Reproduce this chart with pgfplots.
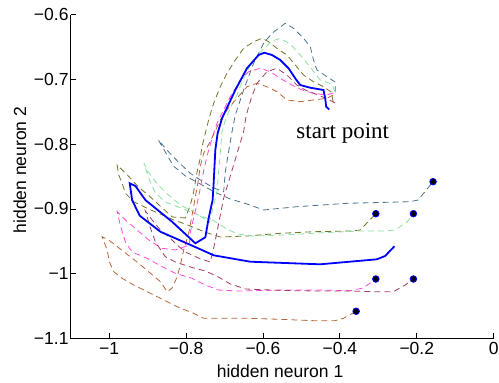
\documentclass[border=0pt]{standalone}
\usepackage{fontspec}
\setmainfont{Liberation Sans}
\newfontfamily\serifx{Liberation Serif}
\usepackage{pgfplots}
\pgfplotsset{compat=1.18}
\definecolor{slate}{RGB}{75,115,140}
\definecolor{olivec}{RGB}{115,115,40}
\definecolor{lgreen}{RGB}{140,225,160}
\definecolor{magc}{RGB}{255,70,220}
\definecolor{maroonc}{RGB}{165,60,100}
\definecolor{brownc}{RGB}{185,100,55}
\begin{document}
\begin{tikzpicture}
\begin{axis}[
  scale only axis, width=423bp, height=324bp,
  xmin=-1.1, xmax=0, ymin=-1.1, ymax=-0.6,
  enlargelimits=false,
  axis lines*=left,
  axis line style={black, line width=0.8bp},
  tick align=inside,
  major tick length=5bp,
  tick style={black, line width=0.8bp},
  xtick={-1,-0.8,-0.6,-0.4,-0.2,0},
  xticklabels={−1,−0.8,−0.6,−0.4,−0.2,0},
  ytick={-1.1,-1,-0.9,-0.8,-0.7,-0.6},
  yticklabels={−1.1,−1,−0.9,−0.8,−0.7,−0.6},
  tick label style={font=\fontsize{17.5bp}{20bp}\selectfont},
  xticklabel style={inner sep=1bp, yshift=-3bp},
  yticklabel style={inner sep=1bp, xshift=-1bp},
  xlabel={hidden neuron 1},
  ylabel={hidden neuron 2},
  label style={font=\fontsize{17.5bp}{20bp}\selectfont},
  xlabel style={at={(axis description cs:0.495,-0.1)}, anchor=center},
  ylabel style={at={(axis description cs:-0.1199,0.52)}, anchor=center, rotate=0},
  clip=false,
]
% slate
\addplot[slate, line width=0.8bp, dash pattern=on 6bp off 4bp] coordinates {
(-0.4122,-0.7196) (-0.4122,-0.7042) (-0.4338,-0.6960) (-0.4597,-0.6856) (-0.4686,-0.6702)
(-0.4771,-0.6497) (-0.4945,-0.6367) (-0.5205,-0.6213) (-0.5421,-0.6136) (-0.5766,-0.6290)
(-0.5984,-0.6444) (-0.6244,-0.6753) (-0.6504,-0.7165) (-0.6634,-0.7397) (-0.6719,-0.7551)
(-0.6805,-0.7809) (-0.6894,-0.8117) (-0.6979,-0.8426) (-0.7023,-0.8735) (-0.7283,-0.8677)
(-0.7629,-0.8554) (-0.7888,-0.8451) (-0.8200,-0.8276) (-0.8452,-0.8122) (-0.8719,-0.7937)
(-0.8538,-0.8122) (-0.8330,-0.8338) (-0.8018,-0.8492) (-0.7629,-0.8616) (-0.7265,-0.8739)
(-0.6849,-0.8847) (-0.6416,-0.8924) (-0.5984,-0.9017) (-0.5117,-0.8966) (-0.3818,-0.8914)
(-0.2174,-0.8889) (-0.1966,-0.8863) (-0.1577,-0.8580)
};
% olive
\addplot[olivec, line width=0.8bp, dash pattern=on 6bp off 4bp] coordinates {
(-0.4174,-0.7350) (-0.4226,-0.7196) (-0.4426,-0.7114) (-0.4686,-0.7037) (-0.4945,-0.6934)
(-0.5161,-0.6779) (-0.5377,-0.6625) (-0.5636,-0.6522) (-0.5855,-0.6420) (-0.6026,-0.6367)
(-0.6244,-0.6420) (-0.6504,-0.6522) (-0.6719,-0.6702) (-0.6935,-0.6907) (-0.7109,-0.7114)
(-0.7283,-0.7370) (-0.7413,-0.7628) (-0.7499,-0.7833) (-0.7584,-0.8040) (-0.7629,-0.8215)
(-0.7714,-0.8431) (-0.7803,-0.8739) (-0.7888,-0.8940) (-0.8018,-0.9140) (-0.8356,-0.9125)
(-0.8618,-0.8986) (-0.8927,-0.8816) (-0.9239,-0.8662) (-0.9525,-0.8477) (-0.9792,-0.8323)
(-0.9751,-0.8477) (-0.9662,-0.8605) (-0.9577,-0.8759) (-0.9361,-0.8889) (-0.9013,-0.8991)
(-0.8712,-0.9068) (-0.8322,-0.9171) (-0.8018,-0.9233) (-0.7758,-0.9299) (-0.7413,-0.9377)
(-0.7109,-0.9434) (-0.6416,-0.9418) (-0.5551,-0.9377) (-0.4686,-0.9352) (-0.3732,-0.9341)
(-0.3473,-0.9326) (-0.3065,-0.9074)
};
% light green
\addplot[lgreen, line width=0.8bp, dash pattern=on 6bp off 4bp] coordinates {
(-0.4122,-0.7196) (-0.4208,-0.7073) (-0.4512,-0.7011) (-0.4771,-0.6810) (-0.5031,-0.6625)
(-0.5291,-0.6455) (-0.5551,-0.6370) (-0.5766,-0.6409) (-0.6070,-0.6579) (-0.6330,-0.6779)
(-0.6545,-0.7037) (-0.6675,-0.7242) (-0.6849,-0.7443) (-0.6979,-0.7628) (-0.7065,-0.7813)
(-0.7109,-0.8122) (-0.7153,-0.8431) (-0.7195,-0.8739) (-0.7325,-0.9048) (-0.7395,-0.9202)
(-0.7758,-0.9063) (-0.8148,-0.8940) (-0.8486,-0.8770) (-0.8745,-0.8616) (-0.9005,-0.8415)
(-0.9096,-0.8292) (-0.8953,-0.8554) (-0.8797,-0.8755) (-0.8538,-0.8893) (-0.8096,-0.8994)
(-0.7681,-0.9094) (-0.7265,-0.9187) (-0.6979,-0.9295) (-0.6668,-0.9387) (-0.6252,-0.9418)
(-0.5473,-0.9403) (-0.4590,-0.9372) (-0.3473,-0.9341) (-0.2875,-0.9341) (-0.2564,-0.9326)
(-0.2252,-0.9202) (-0.2088,-0.9074)
};
% magenta
\addplot[magc, line width=0.8bp, dash pattern=on 6bp off 4bp] coordinates {
(-0.4174,-0.7211) (-0.4338,-0.7242) (-0.4686,-0.7216) (-0.4987,-0.7165) (-0.5247,-0.7088)
(-0.5551,-0.6985) (-0.5810,-0.6883) (-0.6070,-0.6830) (-0.6374,-0.6883) (-0.6590,-0.7011)
(-0.6849,-0.7269) (-0.7023,-0.7474) (-0.7195,-0.7679) (-0.7325,-0.7910) (-0.7447,-0.8168)
(-0.7543,-0.8415) (-0.7629,-0.8677) (-0.7714,-0.8924) (-0.7803,-0.9140) (-0.7888,-0.9356)
(-0.7914,-0.9557) (-0.8278,-0.9634) (-0.8623,-0.9608) (-0.8971,-0.9480) (-0.9273,-0.9326)
(-0.9577,-0.9171) (-0.9792,-0.9043) (-0.9706,-0.9264) (-0.9577,-0.9511) (-0.9403,-0.9665)
(-0.9013,-0.9762) (-0.8623,-0.9892) (-0.8278,-0.9994) (-0.7844,-1.0071) (-0.7499,-1.0175)
(-0.7153,-1.0252) (-0.6634,-1.0267) (-0.5473,-1.0252) (-0.4590,-1.0252) (-0.3732,-1.0262)
(-0.3395,-1.0221) (-0.3065,-1.0082)
};
% maroon
\addplot[maroonc, line width=0.8bp, dash pattern=on 6bp off 4bp] coordinates {
(-0.4122,-0.7366) (-0.4330,-0.7304) (-0.4564,-0.7242) (-0.4901,-0.7165) (-0.5117,-0.7088)
(-0.5377,-0.6934) (-0.5636,-0.6830) (-0.5896,-0.6883) (-0.6156,-0.7062) (-0.6304,-0.7289)
(-0.6434,-0.7551) (-0.6504,-0.7809) (-0.6634,-0.8065) (-0.6764,-0.8323) (-0.6894,-0.8580)
(-0.7023,-0.8836) (-0.7109,-0.9094) (-0.7195,-0.9352) (-0.7265,-0.9557) (-0.7369,-0.9819)
(-0.7681,-0.9758) (-0.8018,-0.9665) (-0.8234,-0.9557) (-0.8452,-0.9429) (-0.8668,-0.9326)
(-0.8883,-0.9171) (-0.9057,-0.9032) (-0.8927,-0.9295) (-0.8797,-0.9511) (-0.8538,-0.9738)
(-0.8278,-0.9819) (-0.7888,-0.9897) (-0.7499,-0.9958) (-0.7161,-1.0051) (-0.6849,-1.0159)
(-0.6460,-1.0236) (-0.5473,-1.0259) (-0.4590,-1.0267) (-0.3732,-1.0267) (-0.3039,-1.0278)
(-0.2608,-1.0278) (-0.2304,-1.0175) (-0.2088,-1.0082)
};
% brown
\addplot[brownc, line width=0.8bp, dash pattern=on 6bp off 4bp] coordinates {
(-0.4174,-0.7242) (-0.4338,-0.7293) (-0.4686,-0.7319) (-0.5031,-0.7346) (-0.5377,-0.7319)
(-0.5636,-0.7191) (-0.5896,-0.7114) (-0.6156,-0.7062) (-0.6416,-0.7114) (-0.6675,-0.7293)
(-0.6901,-0.7443) (-0.7109,-0.7628) (-0.7291,-0.7860) (-0.7421,-0.8014) (-0.7543,-0.8142)
(-0.7629,-0.8338) (-0.7681,-0.8554) (-0.7803,-0.8966) (-0.7932,-0.9377) (-0.8062,-0.9634)
(-0.8148,-0.9866) (-0.8234,-1.0051) (-0.8364,-1.0221) (-0.8486,-1.0282) (-0.8668,-1.0123)
(-0.8927,-0.9994) (-0.9231,-0.9840) (-0.9621,-0.9660) (-1.0010,-0.9480) (-1.0182,-0.9429)
(-1.0052,-0.9634) (-0.9992,-0.9819) (-0.9881,-0.9969) (-0.9662,-1.0071) (-0.9361,-1.0175)
(-0.9013,-1.0278) (-0.8582,-1.0406) (-0.8234,-1.0509) (-0.7803,-1.0611) (-0.7543,-1.0688)
(-0.6416,-1.0688) (-0.5551,-1.0704) (-0.4686,-1.0725) (-0.4122,-1.0725) (-0.3906,-1.0688)
(-0.3577,-1.0580)
};
% blue solid
\addplot[blue, line width=1.8bp] coordinates {
(-0.4278,-0.7466) (-0.4356,-0.7423) (-0.4382,-0.7293) (-0.4426,-0.7165) (-0.4771,-0.7130)
(-0.5031,-0.7088) (-0.5161,-0.6985) (-0.5335,-0.6830) (-0.5551,-0.6702) (-0.5766,-0.6625)
(-0.5966,-0.6590) (-0.6114,-0.6625) (-0.6416,-0.6830) (-0.6719,-0.7165) (-0.7065,-0.7602)
(-0.7179,-0.7833) (-0.7239,-0.8091) (-0.7283,-0.8605) (-0.7309,-0.8863) (-0.7413,-0.9145)
(-0.7499,-0.9438) (-0.7758,-0.9531) (-0.8364,-0.9198) (-0.9057,-0.8863) (-0.9317,-0.8647)
(-0.9465,-0.8605) (-0.9403,-0.8863) (-0.9205,-0.9105) (-0.8668,-0.9352) (-0.7629,-0.9623)
(-0.7283,-0.9716) (-0.6330,-0.9815) (-0.4512,-0.9855) (-0.3039,-0.9778) (-0.2823,-0.9727)
(-0.2582,-0.9577)
};
% end points
\addplot[only marks, mark=*, mark size=3.3bp, mark options={fill=black, draw=blue, line width=0.8bp}] coordinates {
(-0.1577,-0.8580) (-0.3065,-0.9074) (-0.2088,-0.9074) (-0.3065,-1.0082) (-0.2088,-1.0082) (-0.3577,-1.0580)
};
\node[anchor=base west, inner sep=0pt, font=\serifx\fontsize{23bp}{26bp}\selectfont] at (axis cs:-0.5135,-0.7906) {start point};
\end{axis}
\pgfresetboundingbox
\path[use as bounding box] ([xshift=-70.7bp,yshift=-44.5bp]current axis.south west) rectangle ([xshift=5.3bp,yshift=14.5bp]current axis.north east);
\end{tikzpicture}
\end{document}
